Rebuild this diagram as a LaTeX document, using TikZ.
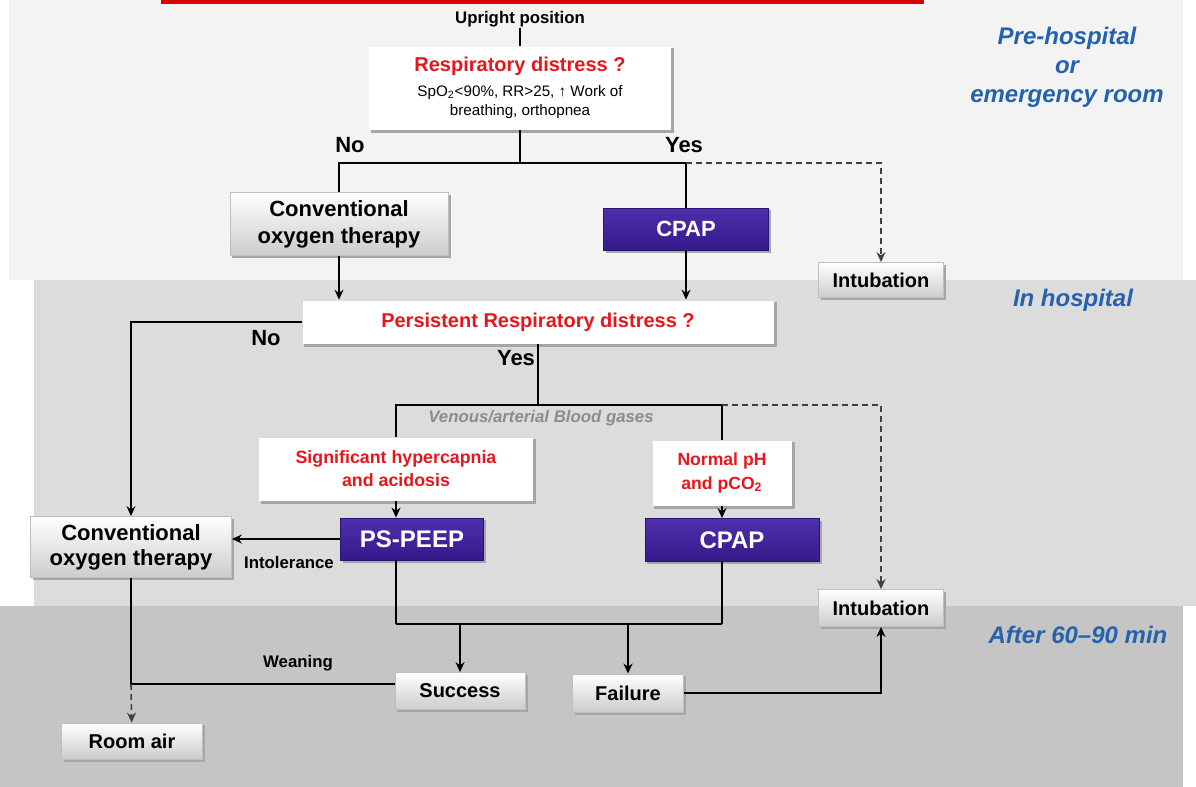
\documentclass[tikz,border=0pt]{standalone}
\usepackage{fontspec}
\setmainfont{Liberation Sans}
\usetikzlibrary{arrows.meta,backgrounds}

\definecolor{bgtop}{HTML}{F3F3F3}
\definecolor{bgmid}{HTML}{DCDCDC}
\definecolor{bgbot}{HTML}{C5C5C5}
\definecolor{qred}{HTML}{E5161C}
\definecolor{zblue}{HTML}{2462AE}
\definecolor{ptop}{HTML}{4F2FAC}
\definecolor{pbot}{HTML}{34198A}
\definecolor{pline}{HTML}{2A1470}

\begin{document}
\begin{tikzpicture}[x=0.5pt, y=-0.5pt, line width=0.8pt,
  >={Stealth[length=5pt,width=4.5pt]},
  every node/.style={font=\bfseries},
  sz/.style 2 args={minimum width=#1*0.5pt, minimum height=#2*0.5pt},
  gbox/.style={draw=black!25, line width=0.4pt, top color=white, bottom color=black!20,
    align=center, inner sep=0pt},
  pbox/.style={draw=pline, line width=0.4pt, top color=ptop, bottom color=pbot, text=white,
    inner sep=0pt},
  qbox/.style={fill=white, align=center, inner sep=0pt},
  lab/.style={inner sep=0pt},
  zone/.style={text=zblue, font=\fontsize{12}{14.5}\selectfont\bfseries\itshape, align=center},
  dsh/.style={dashed, dash pattern=on 3pt off 2pt, draw=black!75}]

\useasboundingbox (0,0) rectangle (1196,787);

% Pre-hospital
\node[lab, font=\fontsize{8.4}{10}\selectfont\bfseries] (upright) at (520,19) {Upright position};
\node[qbox, sz={302}{83}, font=\fontsize{7.6}{9.5}\selectfont] (resp) at (520,88)
  {{\fontsize{10}{12}\selectfont\bfseries\color{qred}Respiratory distress ?}\\[3pt]
   SpO\textsubscript{2}<90\%, RR>25, ↑ Work of\\ breathing, orthopnea};
\node[lab, font=\fontsize{11}{13}\selectfont\bfseries] (no1) at (350,145) {No};
\node[lab, font=\fontsize{11}{13}\selectfont\bfseries] (yes1) at (684,145) {Yes};
\node[gbox, sz={218}{63}, font=\fontsize{11}{13.5}\selectfont\bfseries] (cot1) at (339,224)
  {Conventional\\oxygen therapy};
\node[pbox, sz={165}{42}, font=\fontsize{11}{13}\selectfont\bfseries] (cpap1) at (686,229) {CPAP};
\node[gbox, sz={125}{35}, font=\fontsize{10}{12}\selectfont\bfseries] (int1) at (881,280) {Intubation};
\node[zone] (prehosp) at (1067,67) {Pre-hospital\\or\\emergency room};

% In hospital
\node[qbox, sz={471}{43}, font=\fontsize{10}{12}\selectfont\bfseries, text=qred] (persist) at (538,322)
  {Persistent Respiratory distress ?};
\node[lab, font=\fontsize{11}{13}\selectfont\bfseries] (no2) at (266,338) {No};
\node[lab, font=\fontsize{11}{13}\selectfont\bfseries] (yes2) at (516,358) {Yes};
\node[zone] (inhosp) at (1073,300) {In hospital};
\node[lab, text=black!45, font=\fontsize{8.4}{10}\selectfont\bfseries\itshape] (gases) at (541,418)
  {Venous/arterial Blood gases};
\node[qbox, sz={274}{63}, text=qred, font=\fontsize{8.9}{11.5}\selectfont\bfseries] (hyper) at (396,469)
  {Significant hypercapnia\\and acidosis};
\node[qbox, sz={139}{65}, text=qred, font=\fontsize{8.8}{12}\selectfont\bfseries] (normal) at (722,473)
  {Normal pH\\and pCO\textsubscript{2}};
\node[pbox, sz={143}{42}, font=\fontsize{12}{14}\selectfont\bfseries] (pspeep) at (412,539) {PS-PEEP};
\node[pbox, sz={174}{43}, font=\fontsize{12}{14}\selectfont\bfseries] (cpap2) at (732,540) {CPAP};
\node[gbox, sz={201}{61}, font=\fontsize{11}{12.5}\selectfont\bfseries] (cot2) at (131,547)
  {Conventional\\oxygen therapy};
\node[lab, font=\fontsize{8.4}{10}\selectfont\bfseries] (intol) at (289,562) {Intolerance};
\node[gbox, sz={125}{37}, font=\fontsize{10}{12}\selectfont\bfseries] (int2) at (881,608) {Intubation};

% After 60-90 min
\node[zone] (after) at (1078,635) {After 60–90 min};
\node[gbox, sz={130}{37}, font=\fontsize{10}{12}\selectfont\bfseries] (success) at (460,691) {Success};
\node[gbox, sz={111}{38}, font=\fontsize{10}{12}\selectfont\bfseries] (failure) at (628,693) {Failure};
\node[lab, font=\fontsize{8.4}{10}\selectfont\bfseries] (weaning) at (298,663) {Weaning};
\node[gbox, sz={141}{36}, font=\fontsize{10}{12}\selectfont\bfseries] (roomair) at (132,741) {Room air};

\begin{scope}[on background layer]
\fill[white] (0,0) rectangle (1196,787);
\fill[bgtop] (9,0) rectangle (1183,280);
\fill[bgmid] (34,280) rectangle (1196,606);
\fill[bgbot] (0,606) rectangle (1183,787);
\fill[red!85!black] (161,0) rectangle (924,4);
\foreach \n in {resp, cot1, cpap1, int1, persist, hyper, normal, pspeep, cpap2, cot2, int2, success, failure, roomair}
    \fill[black!35] ([shift={(1.2pt,-1.2pt)}]\n.south west) rectangle ([shift={(1.2pt,-1.2pt)}]\n.north east);
\end{scope}

\coordinate (j1) at (520,163);
\coordinate (j2) at (538,405);
\coordinate (j3) at (396,624);
\coordinate (j4) at (722,624);
\coordinate (j5) at (131,684);

\foreach \from/\to in {upright/resp, resp/j1, persist/j2, cot2/j5, j3/j4}
    \draw (\from) -- (\to);

\draw (j5) -- (j5 -| success.west);
\draw (j1) -| (cot1);
\draw (j1) -| (cpap1);
\draw (j2) -| (hyper);
\draw (j2) -| (normal);
\draw (hyper |- pspeep.south) -- (j3);
\draw (normal |- cpap2.south) -- (j4);

\draw[->] (cot1) -- (cot1 |- persist.north);
\draw[->] (cpap1) -- (cpap1 |- persist.north);
\draw[->] (persist) -| (cot2);
\draw[->] (hyper) -- (hyper |- pspeep.north);
\draw[->] (normal) -- (normal |- cpap2.north);
\draw[->] (pspeep) -- (pspeep -| cot2.east);
\draw[->] (success |- j3) -- (success);
\draw[->] (failure |- j3) -- (failure);
\draw[->] (failure) -| (int2);

\draw[dsh, ->] (cpap1.north |- j1) -| (int1);
\draw[dsh, ->] (normal.north |- j2) -| (int2);
\draw[dsh, ->] (j5) -- (roomair);

\end{tikzpicture}
\end{document}
